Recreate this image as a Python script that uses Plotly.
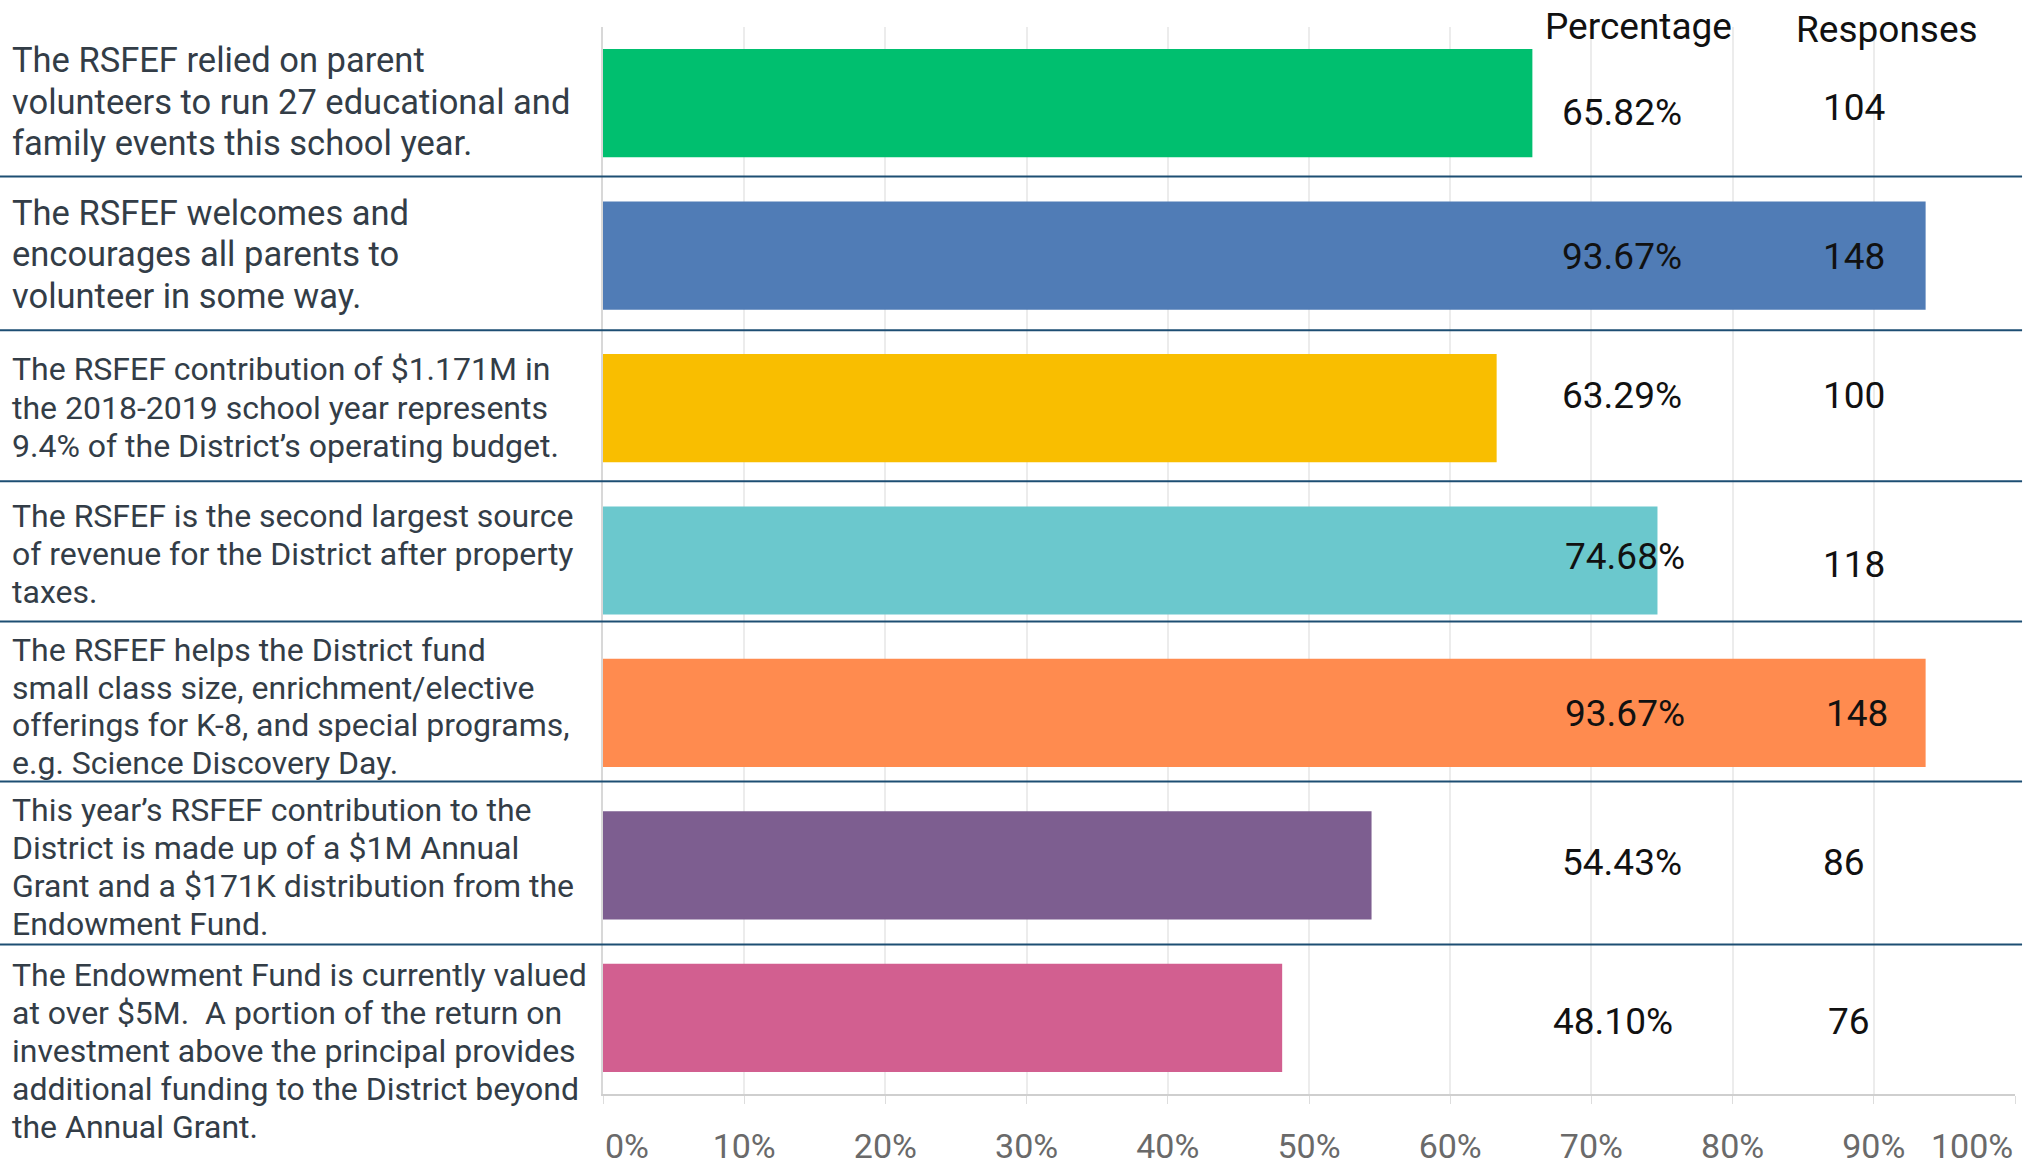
import plotly.graph_objects as go

statements = [
    "The RSFEF relied on parent<br>volunteers to run 27 educational and<br>family events this school year.",
    "The RSFEF welcomes and<br>encourages all parents to<br>volunteer in some way.",
    "The RSFEF contribution of $1.171M in<br>the 2018-2019 school year represents<br>9.4% of the District’s operating budget.",
    "The RSFEF is the second largest source<br>of revenue for the District after property<br>taxes.",
    "The RSFEF helps the District fund<br>small class size, enrichment/elective<br>offerings for K-8, and special programs,<br>e.g. Science Discovery Day.",
    "This year’s RSFEF contribution to the<br>District is made up of a $1M Annual<br>Grant and a $171K distribution from the<br>Endowment Fund.",
    "The Endowment Fund is currently valued<br>at over $5M.  A portion of the return on<br>investment above the principal provides<br>additional funding to the District beyond<br>the Annual Grant.",
]
percentages = [65.82, 93.67, 63.29, 74.68, 93.67, 54.43, 48.10]
responses = [104, 148, 100, 118, 148, 86, 76]
colors = ["#00BF6F", "#507CB6", "#F9BE00", "#6BC8CD", "#FF8B4F", "#7D5E90", "#D25F90"]
tick_vals = [0, 10, 20, 30, 40, 50, 60, 70, 80, 90, 100]
tick_text = ["0%", "10%", "20%", "30%", "40%", "50%", "60%", "70%", "80%", "90%", "100%"]

# layout helpers (styling only)
label_font_sizes = [34.5, 34.5, 32, 32, 32, 32, 32]
label_line_gap = [41.6, 41.6, 38.4, 37.7, 37.7, 38.1, 38.0]
label_yshift = [1.6, 1.2, 0.4, 6.5, 6.4, -1.4, -33.4]
pct_yshift = [-9, -1, 13, 4, -1, 3, -4]
resp_yshift = [-4, -1, 13, -4, -1, 3, -4]
pct_xshift = [0, 0, 0, 3, 3, 0, -9]
resp_xshift = [0, 0, 0, 0, 3, -10, -5]
separators = [0.48, 1.49, 2.48, 3.40, 4.45, 5.52]

cats = list(range(len(statements)))

fig = go.Figure()
fig.add_trace(go.Bar(
    x=percentages, y=cats, orientation="h",
    marker=dict(color=colors, line=dict(width=0)),
    hoverinfo="skip", showlegend=False,
))

annotations = []
for i, (s, p, r) in enumerate(zip(statements, percentages, responses)):
    lines = s.split("<br>")
    n = len(lines)
    for k, ln in enumerate(lines):
        off = ((n - 1) / 2 - k) * label_line_gap[i]
        annotations.append(dict(
            x=0, xref="paper", xshift=-592, y=i, yref="y",
            yshift=label_yshift[i] + off,
            text=ln, showarrow=False, xanchor="left", yanchor="middle", align="left",
            borderpad=0,
            font=dict(family="Roboto", size=label_font_sizes[i], color="#333d47"),
        ))
    annotations.append(dict(
        x=72.2, xref="x", xshift=pct_xshift[i], y=i, yref="y", yshift=pct_yshift[i],
        text=f"{p:.2f}%", showarrow=False, xanchor="center", yanchor="middle",
        font=dict(family="Roboto", size=37, color="#111111"),
    ))
    annotations.append(dict(
        x=88.6, xref="x", xshift=resp_xshift[i], y=i, yref="y", yshift=resp_yshift[i],
        text=str(r), showarrow=False, xanchor="center", yanchor="middle",
        font=dict(family="Roboto", size=37, color="#111111"),
    ))

annotations.append(dict(x=73.3, xref="x", y=1, yref="paper", yshift=1, text="Percentage",
                        showarrow=False, xanchor="center", yanchor="middle",
                        font=dict(family="Roboto", size=37, color="#111111")))
annotations.append(dict(x=90.9, xref="x", y=1, yref="paper", yshift=-2, text="Responses",
                        showarrow=False, xanchor="center", yanchor="middle",
                        font=dict(family="Roboto", size=37, color="#111111")))

# edge tick labels (0% left-aligned, 100% right-aligned)
tick_font = dict(family="Roboto", size=34, color="#6a6a6a")
annotations.append(dict(x=tick_vals[0], xref="x", y=0, yref="paper", yshift=-52,
                        text=tick_text[0], showarrow=False, xanchor="left",
                        yanchor="middle", font=tick_font))
annotations.append(dict(x=tick_vals[-1], xref="x", y=0, yref="paper", yshift=-52,
                        text=tick_text[-1], showarrow=False, xanchor="right",
                        yanchor="middle", font=tick_font))
axis_text = [""] + tick_text[1:-1] + [""]

shapes = []
for sy in separators:
    shapes.append(dict(type="line", xref="paper", x0=-603 / 1412, x1=1.005,
                       yref="y", y0=sy, y1=sy,
                       line=dict(color="#1d4e73", width=2)))

fig.update_layout(
    width=2038, height=1168,
    margin=dict(l=603, r=23, t=27, b=74, autoexpand=False),
    paper_bgcolor="white", plot_bgcolor="white",
    bargap=0.29,
    annotations=annotations,
    shapes=shapes,
    xaxis=dict(
        range=[0, 100], tickvals=tick_vals, ticktext=axis_text,
        showgrid=True, gridcolor="#ececec", gridwidth=2,
        zeroline=False, showline=True, linecolor="#cfcfcf", linewidth=2,
        ticks="outside", ticklen=8, tickcolor="#dddddd", tickwidth=1,
        ticklabelstandoff=13, automargin=False,
        tickfont=tick_font,
        fixedrange=True,
    ),
    yaxis=dict(
        range=[6.5, -0.5], showticklabels=False, showgrid=False,
        zeroline=False, showline=True, linecolor="#d8d8d8", linewidth=2,
        automargin=False, fixedrange=True,
    ),
)

fig.write_html("out.html", config={"displayModeBar": False},
               post_script="document.body.style.margin='0';document.body.style.overflow='hidden';")
